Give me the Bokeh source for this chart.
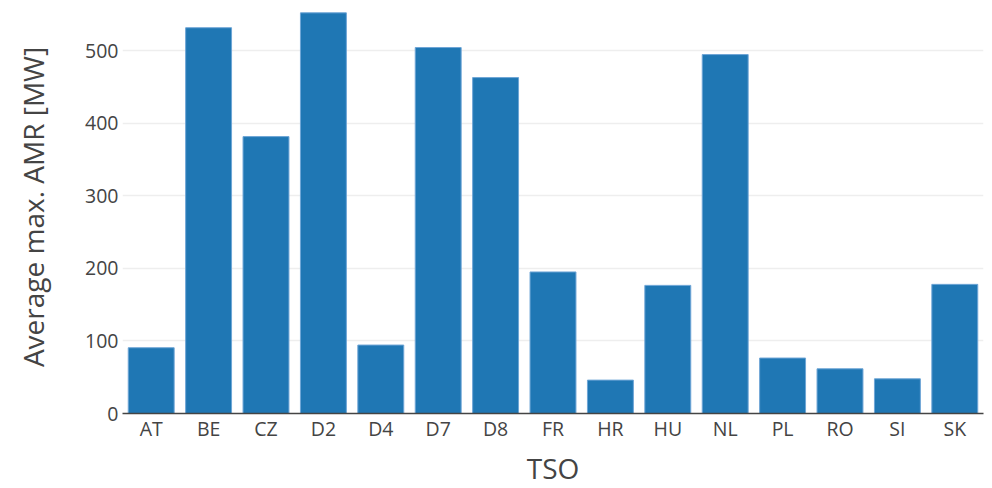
from bokeh.plotting import figure
from bokeh.models import Range1d, FactorRange, Title
from bokeh.embed import file_html
from bokeh.resources import INLINE

tsos = ["AT", "BE", "CZ", "D2", "D4", "D7", "D8", "FR", "HR", "HU", "NL", "PL", "RO", "SI", "SK"]
avg_max_amr = [90.6, 531.5, 381.5, 552.0, 94.3, 504.2, 462.8, 195.0, 46.0, 176.5, 494.5, 76.4, 61.6, 47.8, 177.9]
y_ticks = [0, 100, 200, 300, 400, 500]
x_title = "TSO"
y_title = "Average max. AMR [MW]"

p = figure(x_range=FactorRange(*tsos, range_padding=0), y_range=Range1d(0, 569),
           width=988, height=488, output_backend="svg", toolbar_location=None,
           min_border_left=122, min_border_right=5, min_border_top=0, min_border_bottom=0)
p.outline_line_color = None
p.background_fill_color = "white"
p.border_fill_color = "white"

p.vbar(x=tsos, top=avg_max_amr, width=0.8, fill_color="#1f77b4",
       line_color="#6ea5d6", line_width=1)

font = "Open Sans"
p.yaxis.ticker = y_ticks
p.yaxis.axis_line_color = None
p.yaxis.major_tick_line_color = None
p.yaxis.minor_tick_line_color = None
p.yaxis.major_tick_out = 0
p.yaxis.major_tick_in = 0
p.yaxis.minor_tick_out = 0
p.yaxis.major_label_standoff = 4
p.yaxis.major_label_text_font = font
p.yaxis.major_label_text_font_size = "19.5px"
p.yaxis.major_label_text_color = "#444444"
p.yaxis.axis_label = y_title
p.yaxis.axis_label_text_font = font
p.yaxis.axis_label_text_font_size = "28px"
p.yaxis.axis_label_text_font_style = "normal"
p.yaxis.axis_label_text_color = "#444444"
p.yaxis.axis_label_standoff = 30

p.xaxis.axis_line_color = "#444444"
p.xaxis.axis_line_width = 1.5
p.xaxis.major_tick_line_color = None
p.xaxis.minor_tick_line_color = None
p.xaxis.major_tick_out = 0
p.xaxis.major_tick_in = 0
p.xaxis.minor_tick_out = 0
p.xaxis.major_label_standoff = 1
p.xaxis.major_label_text_font = font
p.xaxis.major_label_text_font_size = "19.5px"
p.xaxis.major_label_text_color = "#444444"

# x-axis title as a panel below the axis
p.add_layout(Title(text=x_title, align="center", text_font=font, text_font_size="28px",
                   text_font_style="normal", text_color="#444444", standoff=4,
                   offset=0, vertical_align="bottom"), "below")

p.xgrid.grid_line_color = None
p.ygrid.grid_line_color = "#eeeeee"
p.ygrid.grid_line_width = 1.5

open("out.html", "w").write(file_html(p, INLINE))
